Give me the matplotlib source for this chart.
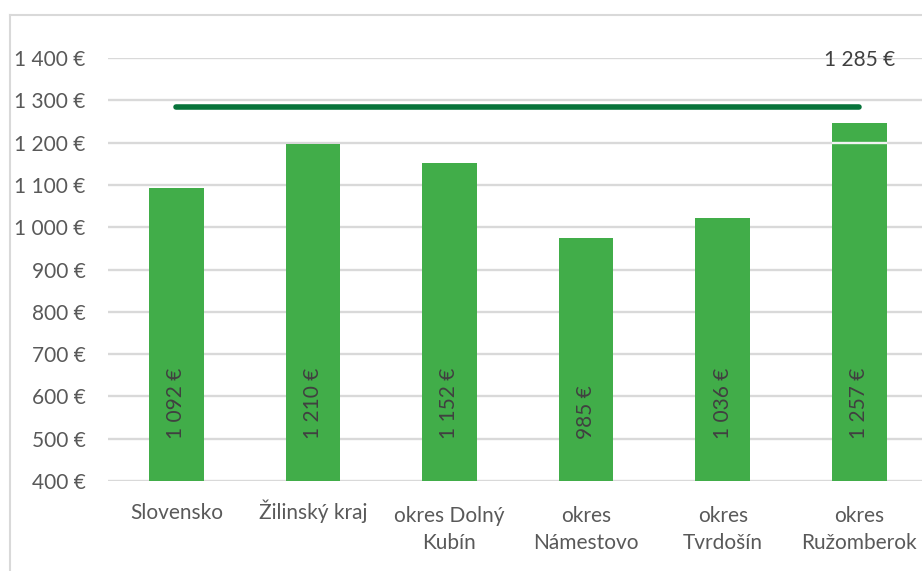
import matplotlib.pyplot as plt
from matplotlib.lines import Line2D

# data
categories = ["Slovensko", "Žilinský kraj", "okres Dolný\nKubín",
              "okres\nNámestovo", "okres\nTvrdošín", "okres\nRužomberok"]
bar_values = [1092, 1197, 1152, 974, 1022, 1246]
bar_labels = ["1 092 €", "1 210 €", "1 152 €", "985 €", "1 036 €", "1 257 €"]
line_value = 1285
line_label = "1 285 €"
yticks = [400, 500, 600, 700, 800, 900, 1000, 1100, 1200, 1300, 1400]

plt.rcParams['font.family'] = ['Lato', 'DejaVu Sans']

fig = plt.figure(figsize=(9.22, 5.71), dpi=100)
ax = fig.add_axes([0.1171, 0.1576, 0.889, 0.7408])

# gridlines behind the bars
for t in yticks:
    ax.axhline(t, color="#d9d9d9", lw=1.7, zorder=0)

x = list(range(len(categories)))
bars = ax.bar(x, [v - 400 for v in bar_values], bottom=400, width=0.40,
              color="#41ad49", zorder=2)

# the 1200 gridline shows up as a light stripe where a bar clearly crosses it
for b, v in zip(bars, bar_values):
    if v > 1210:
        ln = ax.axhline(1200, color="#f2f2f2", lw=1.7, zorder=2.5)
        ln.set_clip_path(b)

for xi, lab in zip(x, bar_labels):
    ax.text(xi, 500, lab, rotation=90, ha="center", va="bottom",
            fontsize=15, color="#404040", zorder=3)

# average line across the categories
ax.plot([x[0], x[-1]], [line_value, line_value], color="#07733a", lw=4,
        solid_capstyle="round", zorder=3)
ax.text(x[-1], 1395, line_label, ha="center", va="center",
        fontsize=15, color="#404040", zorder=3)

# category labels: first line baseline ~38px under the axis, 30px per line
for xi, cat in zip(x, categories):
    n = cat.count("\n")
    ax.annotate(cat, xy=(xi, 0), xycoords=("data", "axes fraction"),
                xytext=(0, -(38 + 30 * n) * 0.72), textcoords="offset points",
                ha="center", va="baseline", multialignment="center",
                linespacing=1.45, fontsize=15, color="#595959")

ax.set_xlim(-0.5, len(categories) - 0.5)
ax.set_ylim(400, 1400)
ax.set_yticks(yticks)
ax.set_yticklabels([f"{t:,} €".replace(",", " ") for t in yticks])
ax.set_xticks([])
ax.tick_params(axis="y", length=0, pad=16, labelsize=15, labelcolor="#595959")
for s in ax.spines.values():
    s.set_visible(False)

# outer chart frame (left and top edges visible)
fig.add_artist(Line2D([10 / 922, 10 / 922], [0, 1 - 15 / 571],
                      transform=fig.transFigure, color="#d9d9d9", lw=1.5))
fig.add_artist(Line2D([10 / 922, 1], [1 - 15 / 571, 1 - 15 / 571],
                      transform=fig.transFigure, color="#d9d9d9", lw=1.5))

fig.savefig("out.png", dpi=100)
